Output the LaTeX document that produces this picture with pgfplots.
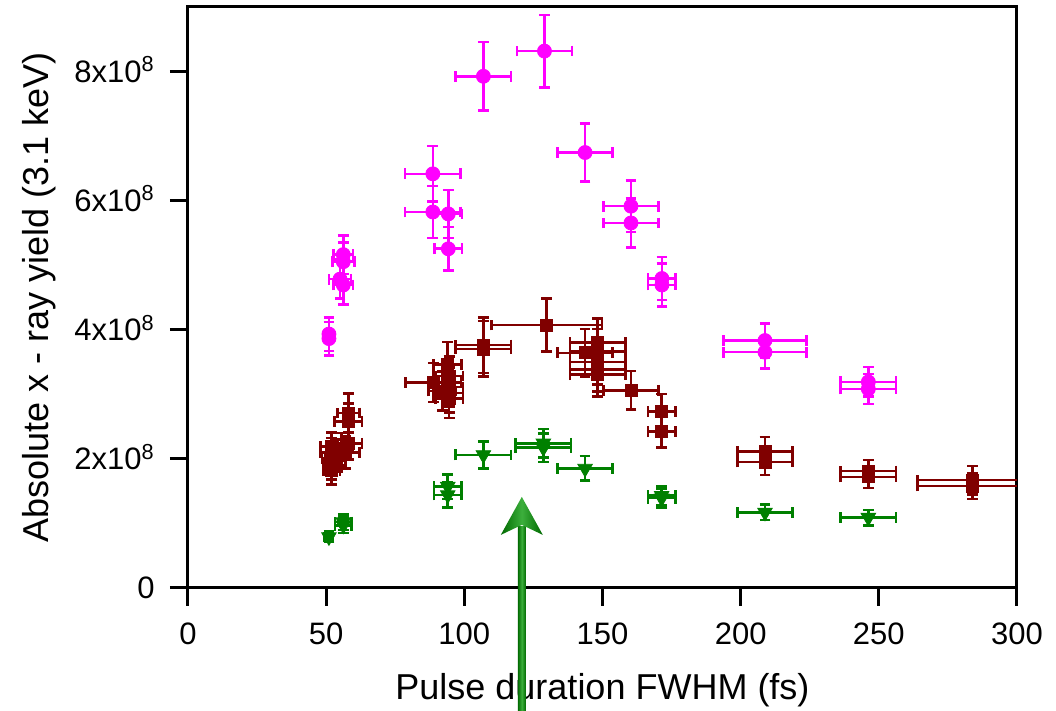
\documentclass[border=0pt]{standalone}
\usepackage{pgfplots}
\pgfplotsset{compat=1.18}
\usepackage{fontspec}
\setmainfont{Liberation Sans}
\definecolor{cmag}{RGB}{255,0,255}
\definecolor{cred}{RGB}{128,0,0}
\definecolor{cgreen}{RGB}{0,128,0}
\definecolor{adark}{RGB}{0,105,0}
\definecolor{alight}{RGB}{60,175,60}
\begin{document}
\begin{tikzpicture}
\useasboundingbox (-94pt,-61.5pt) rectangle (434pt,294pt);
\begin{axis}[
  at={(0,0)}, anchor=south west,
  scale only axis, width=414.5pt, height=290.75pt,
  xmin=0, xmax=300, ymin=0, ymax=9,
  xtick={0,50,100,150,200,250,300},
  xticklabels={0,50,100,150,200,250,300},
  ytick={0,2,4,6,8},
  yticklabels={0,{2x10\textsuperscript{8}},{4x10\textsuperscript{8}},{6x10\textsuperscript{8}},{8x10\textsuperscript{8}}},
  tick align=outside, major tick length=9pt,
  xtick pos=bottom, ytick pos=left,
  axis line style={line width=1.5pt},
  tick style={line width=1.5pt, black},
  tick label style={font=\fontsize{15.5}{18}\selectfont},
  xticklabel style={anchor=base, yshift=-19.5pt},
  yticklabel style={anchor=base east, inner sep=0pt, xshift=-7.5pt, yshift=-5.5pt},
  label style={font=\fontsize{18}{21}\selectfont},
  xlabel={Pulse duration FWHM (fs)},
  ylabel={Absolute x - ray yield (3.1 keV)},
  xlabel style={at={(axis description cs:0.5,-0.1754)}, anchor=center},
  ylabel style={at={(axis description cs:-0.180,0.5)}, anchor=center},
  error bars/error bar style={line width=1.3pt},
  error bars/error mark options={rotate=90, line width=1.3pt, mark size=2.7pt},
]
% magenta circles
\addplot[only marks, mark=*, color=cmag, mark size=3.5pt,
  error bars/.cd, x dir=both, x explicit, y dir=both, y explicit]
  table[x=x, y=y, x error=ex, y error=ey] {
x y ex ey
51.0 3.93 1.2 0.26
51.0 3.86 1.2 0.26
56.2 5.16 3.5 0.30
56.2 5.05 4.0 0.30
55.0 4.78 4.0 0.30
56.2 4.69 3.5 0.30
88.6 6.41 10 0.43
88.6 5.82 10 0.40
94.2 5.79 5 0.37
94.2 5.25 5 0.34
106.9 7.92 10 0.53
129.0 8.31 10 0.56
143.7 6.74 10 0.45
160.3 5.91 10 0.40
160.3 5.65 10 0.38
171.5 4.79 5 0.33
171.5 4.69 5 0.33
208.8 3.83 15 0.26
208.8 3.65 15 0.25
246.2 3.19 10 0.23
246.2 3.08 10 0.23
};
% dark red squares
\addplot[only marks, mark=square*, color=cred, mark size=3pt,
  error bars/.cd, x dir=both, x explicit, y dir=both, y explicit]
  table[x=x, y=y, x error=ex, y error=ey] {
x y ex ey
52.0 2.19 4 0.22
52.0 2.10 4 0.22
51.5 2.00 3 0.22
52.0 1.90 3 0.22
52.0 1.82 3 0.22
54.0 2.05 4 0.25
55.5 2.15 4 0.25
57.0 2.10 5 0.25
58.0 2.24 5 0.25
58.0 2.58 5 0.28
58.0 2.71 4 0.30
88.8 3.18 10 0.30
92.0 3.05 5 0.30
94.5 3.28 5 0.30
94.5 3.11 5 0.30
94.5 3.02 5 0.30
94.5 2.93 5 0.30
93.9 3.46 5 0.35
106.9 3.76 10 0.43
106.9 3.70 10 0.43
129.8 4.07 20 0.41
143.7 3.64 10 0.37
148.3 3.80 10 0.37
148.3 3.66 10 0.35
148.3 3.50 10 0.35
148.3 3.38 10 0.34
148.3 3.30 10 0.34
160.3 3.06 10 0.30
171.4 2.73 5 0.27
171.4 2.42 5 0.25
208.8 2.11 10 0.23
208.8 1.95 10 0.20
246.2 1.81 10 0.17
246.2 1.72 10 0.17
283.9 1.67 20 0.22
283.9 1.58 20 0.20
};
% green triangles
\addplot[only marks, mark=triangle*, mark options={rotate=180}, color=cgreen, mark size=4.2pt,
  error bars/.cd, x dir=both, x explicit, y dir=both, y explicit]
  table[x=x, y=y, x error=ex, y error=ey] {
x y ex ey
51.0 0.79 1.5 0.08
56.2 1.02 3 0.12
56.2 0.97 3 0.12
94.0 1.57 5 0.19
94.0 1.44 5 0.19
106.9 2.06 10 0.21
128.6 2.24 10 0.22
128.6 2.17 10 0.22
143.7 1.85 10 0.19
171.4 1.43 5 0.15
171.4 1.39 5 0.15
208.8 1.17 10 0.12
246.2 1.09 10 0.12
};
\coordinate (tip) at (axis cs:120.8,1.41);
\coordinate (base) at (axis cs:120.8,0);
\end{axis}
\shade[left color=adark, right color=adark, middle color=alight]
  ([xshift=-2pt,yshift=-70pt]base) rectangle ([xshift=2pt,yshift=-15pt]tip);
\shade[left color=adark, right color=adark, middle color=alight]
  (tip) -- ([shift={(-10.5pt,-19pt)}]tip) -- ([yshift=-14pt]tip) -- ([shift={(10.5pt,-19pt)}]tip) -- cycle;
\end{tikzpicture}
\end{document}
